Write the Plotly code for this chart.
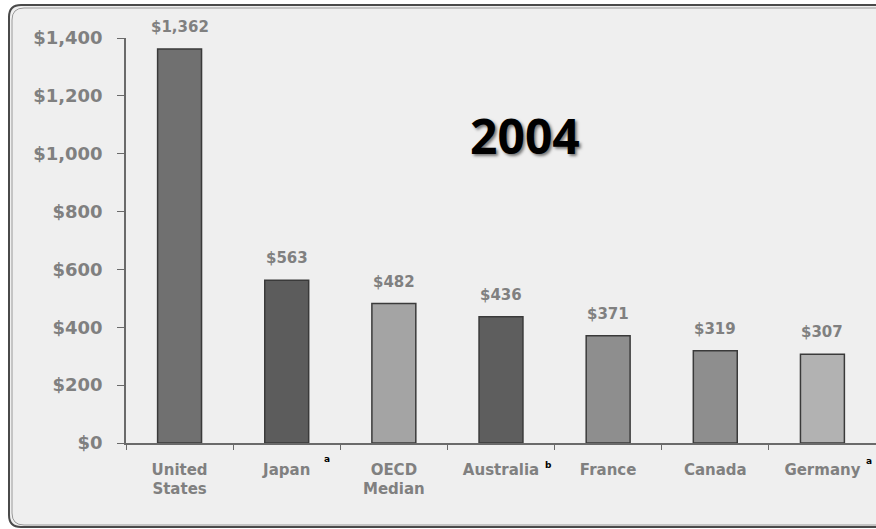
import plotly.graph_objects as go

categories = ["United<br>States", "Japan", "OECD<br>Median", "Australia", "France", "Canada", "Germany"]
values = [1362, 563, 482, 436, 371, 319, 307]
value_labels = ["$1,362", "$563", "$482", "$436", "$371", "$319", "$307"]
bar_colors = ["#707070", "#5c5c5c", "#a4a4a4", "#5e5e5e", "#8e8e8e", "#8e8e8e", "#b2b2b2"]
y_ticks = [0, 200, 400, 600, 800, 1000, 1200, 1400]
y_tick_labels = ["$0", "$200", "$400", "$600", "$800", "$1,000", "$1,200", "$1,400"]
footnotes = [("Japan", "a", 40, -9), ("Australia", "b", 47, -15), ("Germany", "a", 47, -11)]

W, H = 876, 529
L, R, T, B = 126, 0, 38, 86
pw, ph = W - L - R, H - T - B

def px(x):
    return (x - L) / pw

def py(y):
    return (H - B - y) / ph

fig = go.Figure()
fig.add_trace(go.Bar(
    x=categories, y=values, width=0.41,
    marker=dict(color=bar_colors, line=dict(color="#3a3a3a", width=1.5)),
    hoverinfo="skip",
))

gray = "#808080"
annotations = []
for c, v, lab in zip(categories, values, value_labels):
    annotations.append(dict(x=c, y=v, xref="x", yref="y", text=lab, showarrow=False,
                            yanchor="bottom", yshift=11,
                            font=dict(family="DejaVu Sans", size=15, color=gray, weight="bold")))
for c, letter, xs, ys in footnotes:
    annotations.append(dict(x=c, y=0, xref="x", yref="y", text=letter, showarrow=False,
                            xshift=xs, yshift=ys, yanchor="top",
                            font=dict(family="DejaVu Sans", size=9, color="#000000", weight="bold")))
annotations.append(dict(x=px(525), y=py(135), xref="paper", yref="paper", text="2004",
                        showarrow=False, xanchor="center", yanchor="middle",
                        font=dict(family="Open Sans", size=48, color="#000000", weight="bold",
                                  shadow="2px 2px 3px #777777")))

# frame
r = 12
x0, x1, y0, y1 = 9, 900, 5, 527
def frame_path(x0, y0, x1, y1, r):
    return (f"M {px(x0+r)},{py(y0)} L {px(x1)},{py(y0)} L {px(x1)},{py(y1)} "
            f"L {px(x0+r)},{py(y1)} Q {px(x0)},{py(y1)} {px(x0)},{py(y1-r)} "
            f"L {px(x0)},{py(y0+r)} Q {px(x0)},{py(y0)} {px(x0+r)},{py(y0)} Z")

shapes = [
    dict(type="path", xref="paper", yref="paper", layer="below",
         path=frame_path(x0, y0, x1, y1, r), fillcolor="#efefef",
         line=dict(color="#4a4a4a", width=2)),
    dict(type="path", xref="paper", yref="paper", layer="below",
         path=frame_path(x0 + 3, y0 + 3, x1, y1 - 2, r), fillcolor="rgba(0,0,0,0)",
         line=dict(color="#9a9a9a", width=1)),
]

fig.update_layout(
    width=W, height=H,
    margin=dict(l=L, r=R, t=T, b=B),
    paper_bgcolor="#ffffff",
    plot_bgcolor="rgba(0,0,0,0)",
    showlegend=False,
    annotations=annotations,
    shapes=shapes,
    xaxis=dict(
        tickson="boundaries", ticks="outside", ticklen=5, tickcolor="#6a6a6a",
        showline=True, linecolor="#6a6a6a", linewidth=1.5,
        showgrid=False, ticklabelstandoff=12,
        tickfont=dict(family="DejaVu Sans", size=15, color=gray, weight="bold"),
        range=[-0.5, 6.5],
    ),
    yaxis=dict(
        range=[0, 1400], tickvals=y_ticks, ticktext=y_tick_labels,
        ticks="outside", ticklen=7, tickcolor="#6a6a6a",
        showline=True, linecolor="#6a6a6a", linewidth=1.5,
        showgrid=False, zeroline=False, ticklabelstandoff=11,
        tickfont=dict(family="DejaVu Sans", size=18, color=gray, weight="bold"),
    ),
)
fig.update_traces(cliponaxis=False)

fig.write_html("out.html", config={"displayModeBar": False},
               post_script="document.body.style.margin='0px';")
